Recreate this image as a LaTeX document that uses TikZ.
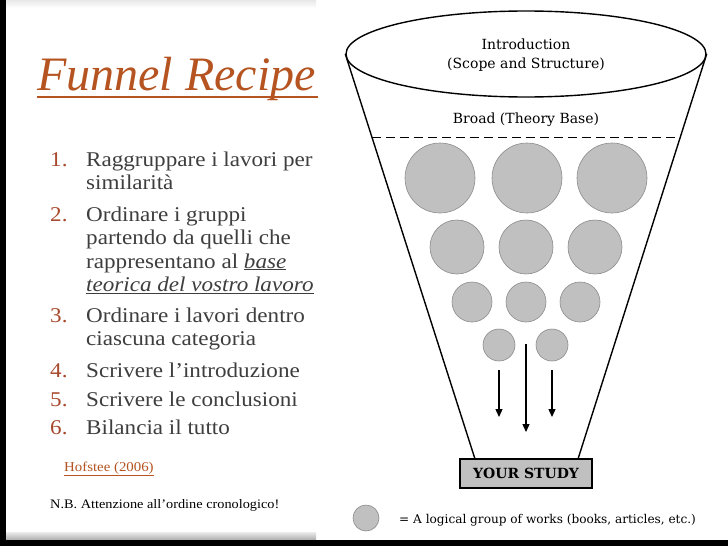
\documentclass[tikz,border=0pt]{standalone}
\usepackage{fontspec}
\setmainfont{Liberation Serif}
\newfontfamily\titlefont{Liberation Serif}
\newfontfamily\bodyfont{Liberation Serif}[FakeStretch=1.1]
\newfontfamily\figfont{DejaVu Serif}
\usetikzlibrary{arrows.meta,shapes.geometric,calc}
\definecolor{rust}{RGB}{181,84,32}
\definecolor{numc}{RGB}{168,72,44}
\definecolor{bodytext}{RGB}{62,62,62}
\definecolor{grp}{RGB}{192,192,192}
\definecolor{grpline}{RGB}{140,140,140}
\begin{document}
\begin{tikzpicture}[x=1pt,y=-1pt,
  titlestyle/.style={inner sep=0pt,anchor=base west,text=rust,font=\titlefont\itshape\fontsize{48}{52}\selectfont},
  numstyle/.style={inner sep=0pt,anchor=base west,text=numc,font=\bodyfont\fontsize{21}{24}\selectfont},
  itemstyle/.style={inner sep=0pt,anchor=base west,text=bodytext,font=\bodyfont\fontsize{21}{24}\selectfont},
  smallstyle/.style={inner sep=0pt,anchor=base west,font=\bodyfont\fontsize{13.5}{16}\selectfont},
  figtext/.style={inner sep=0pt,anchor=base,font=\figfont\fontsize{14}{16}\selectfont},
  group/.style={circle,fill=grp,draw=grpline,line width=0.6pt,inner sep=0pt,minimum size=#1},
  funnelline/.style={line width=1.4pt,black},
  flow/.style={line width=1.3pt,-{Triangle[length=8pt,width=7pt]}}
]
\useasboundingbox (0,0) rectangle (728,546);
\fill[white] (0,0) rectangle (728,546);
% slide frame
\shade[top color=gray!18,bottom color=white] (6,0) rectangle (316,8);
\fill[black] (0,0) rectangle (6,546);
\shade[top color=gray!15,bottom color=gray!65] (6,532) rectangle (316,540);
\fill[black] (0,540) rectangle (728,546);

% title
\node[titlestyle] (title) at (37,90) {Funnel Recipe};
\draw[rust,line width=2pt] ([yshift=-7pt]title.base west) -- ([yshift=-7pt,xshift=2pt]title.base east);

% list
\node[numstyle] (n1) at (50,166) {1.};
\node[itemstyle] (l1a) at (86,166) {Raggruppare i lavori per};
\node[itemstyle] (l1b) at (86,189.5) {similarità};
\node[numstyle] (n2) at (50,221) {2.};
\node[itemstyle] (l2a) at (86,221) {Ordinare i gruppi};
\node[itemstyle] (l2b) at (86,244.5) {partendo da quelli che};
\node[itemstyle] (l2c) at (86,268) {rappresentano al \underline{\itshape base}};
\node[itemstyle] (l2d) at (86,291.5) {\underline{\itshape teorica del vostro lavoro}};
\node[numstyle] (n3) at (50,322) {3.};
\node[itemstyle] (l3a) at (86,322) {Ordinare i lavori dentro};
\node[itemstyle] (l3b) at (86,345.5) {ciascuna categoria};
\node[numstyle] (n4) at (50,377) {4.};
\node[itemstyle] (l4) at (86,377) {Scrivere l’introduzione};
\node[numstyle] (n5) at (50,406) {5.};
\node[itemstyle] (l5) at (86,406) {Scrivere le conclusioni};
\node[numstyle] (n6) at (50,434) {6.};
\node[itemstyle] (l6) at (86,434) {Bilancia il tutto};

\node[smallstyle,text=rust] (ref) at (64,471) {\underline{Hofstee (2006)}};
\node[smallstyle,text=black,font=\bodyfont\fontsize{13}{16}\selectfont] (nb) at (50,508) {N.B. Attenzione all’ordine cronologico!};

% funnel
\node[ellipse,draw,line width=1.4pt,minimum width=360pt,minimum height=86pt,inner sep=0pt] (top) at (526,54) {};
\node[figtext] (intro) at (526,49.5) {Introduction};
\node[figtext] (scope) at (526,68) {(Scope and Structure)};
\node[figtext] (broad) at (526,123) {Broad (Theory Base)};
\coordinate (botL) at (475,459);
\coordinate (botR) at (578,459);
\draw[funnelline] (top.west) -- (botL);
\draw[funnelline] (top.east) -- (botR);
\draw[line width=1.3pt,dash pattern=on 9pt off 5pt] ($(top.west)!0.2054!(botL)$) -- ($(top.east)!0.2054!(botR)$);

% groups
\node[group=70pt] (g11) at (440,178) {};
\node[group=70pt] (g12) at (527,178) {};
\node[group=70pt] (g13) at (612,178) {};
\node[group=54pt] (g21) at (457,247) {};
\node[group=54pt] (g22) at (526,247) {};
\node[group=54pt] (g23) at (595,247) {};
\node[group=40pt] (g31) at (472,302) {};
\node[group=40pt] (g32) at (526,302) {};
\node[group=40pt] (g33) at (580,302) {};
\node[group=32pt] (g41) at (499,345) {};
\node[group=32pt] (g42) at (552,345) {};

% arrows
\coordinate (a1s) at (499,370);
\coordinate (a1e) at (499,417);
\coordinate (a2s) at (526,344);
\coordinate (a2e) at (526,432);
\coordinate (a3s) at (552,370);
\coordinate (a3e) at (552,417);
\draw[flow] (a1s) -- (a1e);
\draw[flow] (a2s) -- (a2e);
\draw[flow] (a3s) -- (a3e);

% your study
\node[draw,line width=1.5pt,fill=grp,minimum width=132pt,minimum height=29pt,inner sep=0pt,font=\figfont\bfseries\fontsize{14}{16}\selectfont] (study) at (526,473.5) {YOUR STUDY};

% legend
\node[group=26pt] (leg) at (366,518) {};
\node[inner sep=0pt,anchor=base west,font=\figfont\fontsize{12.1}{14}\selectfont] (legtext) at (399,523) {= A logical group of works (books, articles, etc.)};
\end{tikzpicture}
\end{document}
